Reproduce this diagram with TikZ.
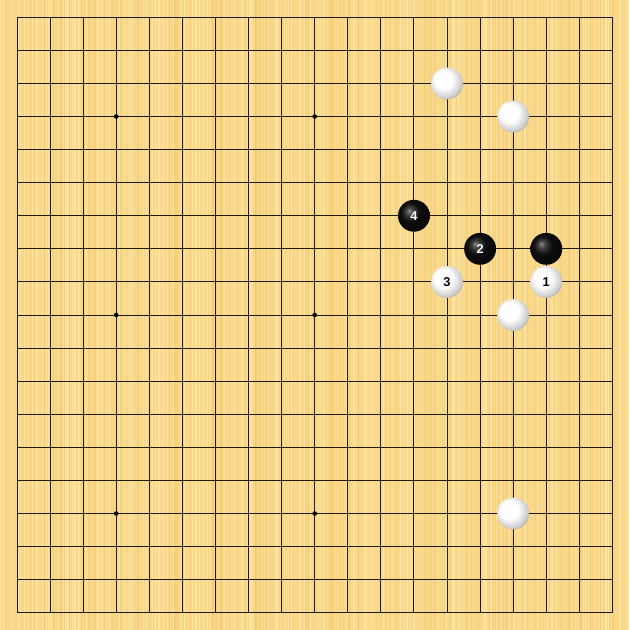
\documentclass[tikz,border=0pt]{standalone}
\usepackage{fontspec}
\setsansfont{Liberation Sans}
\usepackage{xcolor}
\usepackage{tikz}
\definecolor{boardwood}{HTML}{F9D889}
\definecolor{grainlight}{HTML}{FCE7A8}
\definecolor{graindark}{HTML}{F2C870}
\definecolor{gridline}{HTML}{1E1A10}
\pgfdeclareradialshading{whiteball}{\pgfqpoint{-8bp}{8bp}}{color(0bp)=(white); color(14bp)=(white); color(25bp)=(black!18); color(35bp)=(black!45); color(50bp)=(black!55)}
\pgfdeclareradialshading{blackball}{\pgfqpoint{-8bp}{8bp}}{color(0bp)=(black!45); color(6bp)=(black!75); color(15bp)=(black!95); color(50bp)=(black)}

\begin{document}
\begin{tikzpicture}[x=1cm, y=-1cm]
    \tikzstyle{blackstone} = [circle, minimum size=0.965cm, inner sep=0pt, shading=blackball, text=white, font=\sffamily\bfseries\fontsize{11}{11}\selectfont]
    \tikzstyle{whitestone} = [circle, minimum size=0.965cm, inner sep=0pt, shading=whiteball, text=black, font=\sffamily\bfseries\fontsize{11}{11}\selectfont]
    \tikzstyle{hoshi} = [circle, fill=black, inner sep=0pt, minimum size=0.14cm]

    % Board
    \fill[boardwood] (-0.513,-0.513) rectangle (18.513,18.513);
    \pgfmathsetseed{7}
    \foreach \k in {1,...,260} {
        \pgfmathsetmacro{\gx}{-0.5+19*rnd}
        \draw[grainlight, line width=0.5pt, opacity=0.7] (\gx,-0.513) -- (\gx,18.513);
    }
    \foreach \k in {1,...,160} {
        \pgfmathsetmacro{\gx}{-0.5+19*rnd}
        \draw[graindark, line width=0.4pt, opacity=0.5] (\gx,-0.513) -- (\gx,18.513);
    }
    \foreach \i in {0,...,18} {
        \draw[gridline, line width=0.8pt] (\i,0) -- (\i,18);
        \draw[gridline, line width=0.8pt] (0,\i) -- (18,\i);
    }

    % Star points
    \foreach \i/\j in {3/3,9/3,3/9,9/9,3/15,9/15,15/3,15/9,15/15}
        \node [hoshi] (star-\i-\j) at (\i,\j) {};

    % White stones
    \node [whitestone] (w-a) at (13,2) {};
    \node [whitestone] (w-b) at (15,3) {};
    \node [whitestone] (w-c) at (15,9) {};
    \node [whitestone] (w-d) at (15,15) {};
    \node [whitestone] (move1) at (16,8) {1};
    \node [whitestone] (move3) at (13,8) {3};

    % Black stones
    \node [blackstone] (b-a) at (16,7) {};
    \node [blackstone] (move2) at (14,7) {2};
    \node [blackstone] (move4) at (12,6) {4};
\end{tikzpicture}
\end{document}
